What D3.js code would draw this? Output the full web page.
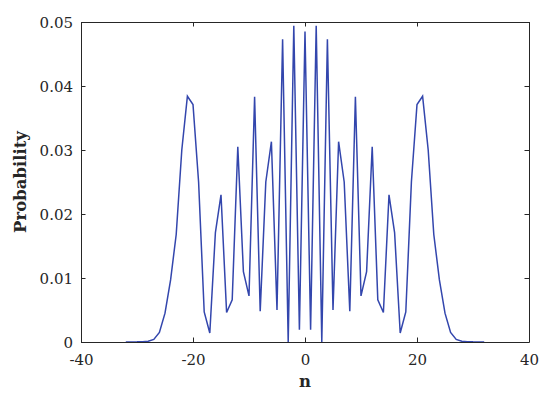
<!DOCTYPE html>
<html>
<head>
<meta charset="utf-8">
<script src="https://cdn.jsdelivr.net/npm/d3@7"></script>
<style>
  body { margin: 0; background: #fff; }
  svg { display: block; }
  .tick text { font-family: 'DejaVu Serif', serif; font-size: 15px; fill: #262626; }
  .axisName { font-family: 'DejaVu Serif', serif; font-weight: bold; font-size: 16.5px; fill: #262626; }
</style>
</head>
<body>
<svg width="550" height="398"></svg>
<script>
//## DATA ##
const positions = [-32, -31, -30, -29, -28, -27, -26, -25, -24, -23, -22, -21, -20, -19, -18, -17, -16,
  -15, -14, -13, -12, -11, -10, -9, -8, -7, -6, -5, -4, -3, -2, -1, 0,
  1, 2, 3, 4, 5, 6, 7, 8, 9, 10, 11, 12, 13, 14, 15, 16,
  17, 18, 19, 20, 21, 22, 23, 24, 25, 26, 27, 28, 29, 30, 31, 32]
const probabilities = [0, 0.00001, 0.00002, 0.00005, 0.00013, 0.0004, 0.0015, 0.0045, 0.0097, 0.0168, 0.0300, 0.0384, 0.0371, 0.0250, 0.0047, 0.0014, 0.0171,
  0.0230, 0.0046, 0.0066, 0.0305, 0.0110, 0.0072, 0.0383, 0.0048, 0.0250, 0.0313, 0.0050, 0.0473, 0, 0.0494, 0.0019, 0.0485,
  0.0019, 0.0494, 0, 0.0473, 0.0050, 0.0313, 0.0250, 0.0048, 0.0383, 0.0072, 0.0110, 0.0305, 0.0066, 0.0046, 0.0230, 0.0171,
  0.0014, 0.0047, 0.0250, 0.0371, 0.0384, 0.0300, 0.0168, 0.0097, 0.0045, 0.0015, 0.0004, 0.00013, 0.00005, 0.00002, 0.00001, 0]
const xTicks = [-40, -20, 0, 20, 40]
const xTickLabels = ['-40', '-20', '0', '20', '40']
const yTicks = [0, 0.01, 0.02, 0.03, 0.04, 0.05]
const yTickLabels = ['0', '0.01', '0.02', '0.03', '0.04', '0.05']

//## D3 VARIABLES ##
const svg = d3.select('svg')
const width = 550
const height = 398
const margin = { left: 81, right: 21, bottom: 56, top: 22 }
const innerWidth = width - margin.left - margin.right
const innerHeight = height - margin.top - margin.bottom
const axisColor = '#262626'
const lineColor = '#3346ad'
let scaleX
let scaleY
const g = svg.append('g').attr('transform', 'translate(' + margin.left + ',' + margin.top + ')')

const data = positions.map((n, i) => ({ n: n, p: probabilities[i] }))

const setScales = function(){
  scaleX = d3.scaleLinear().domain([-40, 40]).range([0, innerWidth])
  scaleY = d3.scaleLinear().domain([0, 0.05]).range([innerHeight, 0])
}

const styleAxis = function(group){
  group.select('.domain').attr('stroke', axisColor).attr('stroke-width', 1)
  group.selectAll('.tick line').attr('stroke', axisColor).attr('stroke-width', 1)
}

const setAxises = function(){
  // bottom + left with labels, ticks pointing inwards
  const xAxisGroup = g.append('g')
    .attr('transform', 'translate(0,' + innerHeight + ')')
    .call(d3.axisBottom(scaleX).tickValues(xTicks).tickFormat((d, i) => xTickLabels[i])
      .tickSizeInner(-4.5).tickSizeOuter(0).tickPadding(12))
  styleAxis(xAxisGroup)

  const yAxisGroup = g.append('g')
    .call(d3.axisLeft(scaleY).tickValues(yTicks).tickFormat((d, i) => yTickLabels[i])
      .tickSizeInner(-4.5).tickSizeOuter(0).tickPadding(8))
  styleAxis(yAxisGroup)
  yAxisGroup.selectAll('.tick text').attr('dy', '0.35em')

  // top + right box sides (no labels)
  const topGroup = g.append('g')
    .call(d3.axisTop(scaleX).tickValues(xTicks).tickSizeInner(-4.5).tickSizeOuter(0))
  styleAxis(topGroup)
  topGroup.selectAll('.tick text').remove()

  const rightGroup = g.append('g')
    .attr('transform', 'translate(' + innerWidth + ',0)')
    .call(d3.axisRight(scaleY).tickValues(yTicks).tickSizeInner(-4.5).tickSizeOuter(0))
  styleAxis(rightGroup)
  rightGroup.selectAll('.tick text').remove()

  svg.append('text')
    .attr('class', 'axisName')
    .attr('x', margin.left + innerWidth / 2)
    .attr('y', 387)
    .attr('text-anchor', 'middle')
    .text('n')

  svg.append('text')
    .attr('class', 'axisName')
    .attr('transform', 'translate(26,' + (margin.top + innerHeight / 2) + ') rotate(-90)')
    .attr('text-anchor', 'middle')
    .text('Probability')
}

const drawLine = function(){
  const line = d3.line()
    .x(d => scaleX(d.n))
    .y(d => scaleY(d.p))

  g.append('path')
    .datum(data)
    .attr('fill', 'none')
    .attr('stroke', lineColor)
    .attr('stroke-width', 1.5)
    .attr('d', line)
}

setScales()
drawLine()
setAxises()
</script>
</body>
</html>
